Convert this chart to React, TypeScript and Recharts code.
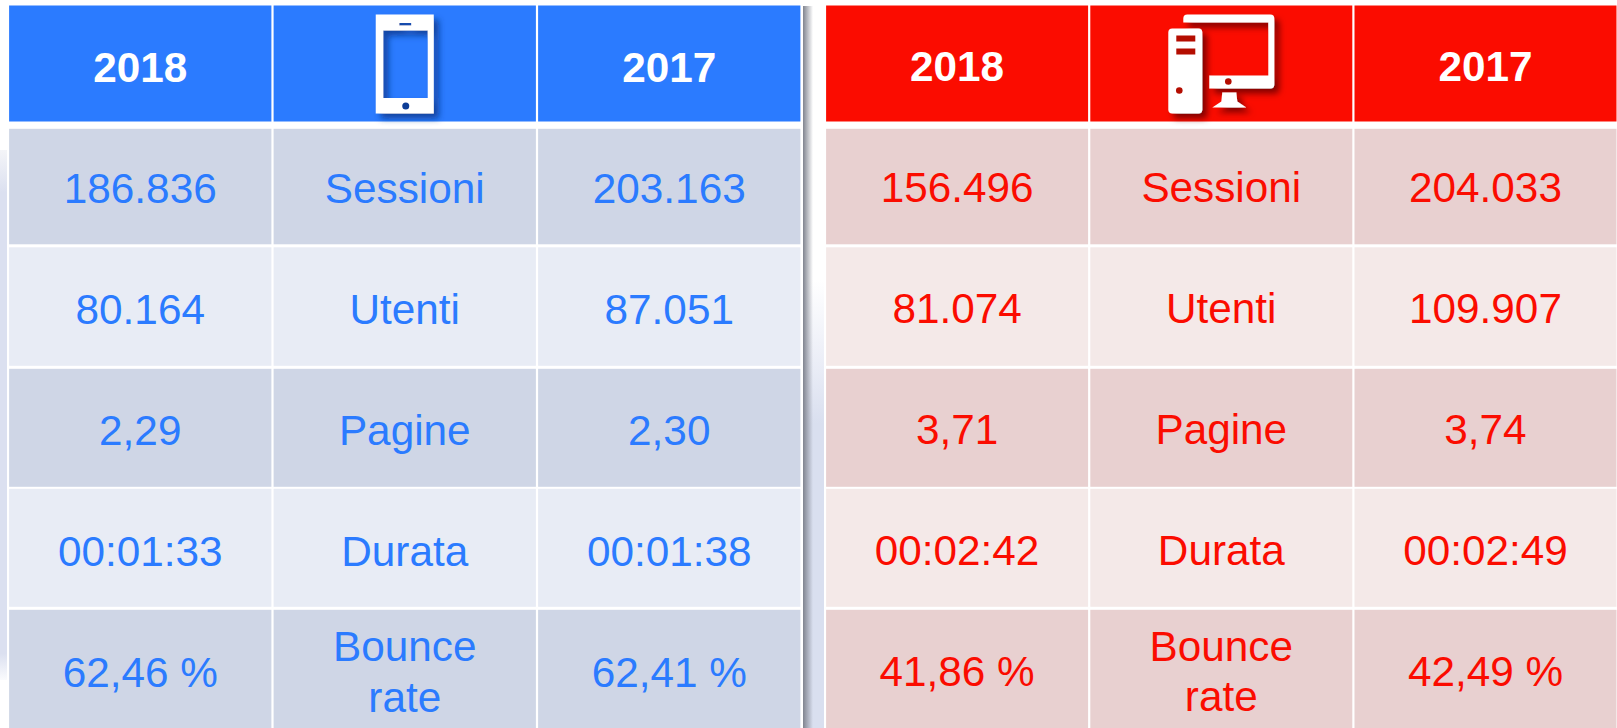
import React from 'react';
import { ScatterChart, Scatter, XAxis, YAxis } from 'recharts';

const columns = ['2018', 'device', '2017'];
const rows = ['header', 'Sessioni', 'Utenti', 'Pagine', 'Durata', 'Bounce rate'];

const mobile2018 = ['186.836', '80.164', '2,29', '00:01:33', '62,46 %'];
const mobile2017 = ['203.163', '87.051', '2,30', '00:01:38', '62,41 %'];
const desktop2018 = ['156.496', '81.074', '3,71', '00:02:42', '41,86 %'];
const desktop2017 = ['204.033', '109.907', '3,74', '00:02:49', '42,49 %'];

const buildCells = (values2018: string[], values2017: string[]) => [
  { column: '2018', row: 'header', text: '2018' },
  { column: 'device', row: 'header', text: '' },
  { column: '2017', row: 'header', text: '2017' },
  ...rows.slice(1).flatMap((row, i) => [
    { column: '2018', row, text: values2018[i] },
    { column: 'device', row, text: row },
    { column: '2017', row, text: values2017[i] },
  ]),
];

// top and bottom edge of each row, measured from the centre of its band
const rowEdges = [
  [-59, 57],
  [-56.7, 58.8],
  [-59.2, 59.3],
  [-58.7, 59.3],
  [-59.7, 58.3],
  [-59.7, 60],
];

const blue = {
  id: 'blue',
  header: '#2b7bff',
  text: '#2b7bff',
  bands: ['#cfd6e6', '#e8ecf5'],
  shadow: '#0b3c96',
};
const red = {
  id: 'red',
  header: '#fb0c00',
  text: '#fb0c00',
  bands: ['#e8d0d0', '#f4e9e8'],
  shadow: '#740000',
};

const font = '"Liberation Sans", Arial, sans-serif';

const PhoneIcon = ({ theme }: any) => (
  <g filter={`url(#shadow-${theme.id})`}>
    <path
      fillRule="evenodd"
      fill="#fff"
      d="M-29 -50 H29 V49 H-29 Z M-21.5 -34 V33.5 H23 V-34 Z M-5.5 -41.5 V-39 H6.5 V-41.5 Z"
    />
    <circle cx={1} cy={41.5} r={3.5} fill={theme.shadow} />
  </g>
);

const DesktopIcon = ({ theme }: any) => (
  <g filter={`url(#shadow-${theme.id})`}>
    <path
      fill="#fff"
      d="M-38 -46 Q-38 -50 -34 -50 H49 Q53 -50 53 -46 V20 Q53 24 49 24 H-12 V11 H47 V-42 H-38 Z"
    />
    <path fill="#fff" d="M1 28 H15 L16 37 L25 43 H-9 L0 37 Z" />
    <rect x={-53} y={-36} width={34} height={85} rx={4} fill="#fff" />
    <rect x={-45} y={-29} width={19} height={6} fill="#b40a00" />
    <rect x={-45} y={-16} width={19} height={6} fill="#b40a00" />
    <circle cx={-42} cy={26} r={3.3} fill="#b40a00" />
    <circle cx={7} cy={17} r={3.3} fill="#b40a00" />
  </g>
);

const TableCell = ({ cx, cy, payload, theme, halfWidth }: any) => {
  const rowIndex = rows.indexOf(payload.row);
  const isHeader = rowIndex === 0;
  const isIcon = isHeader && payload.column === 'device';
  const [top, bottom] = rowEdges[rowIndex];
  const fill = isHeader ? theme.header : theme.bands[(rowIndex + 1) % 2];
  const lines = payload.column === 'device' ? payload.text.split(' ') : [payload.text];
  const baseline = lines.length > 1 ? [-8.7, 42] : [17];
  return (
    <g>
      <rect x={cx - halfWidth} y={cy + top} width={halfWidth * 2} height={bottom - top} fill={fill} />
      {lines.map((line: string, i: number) => (
        <text
          key={i}
          x={cx}
          y={cy + baseline[i]}
          textAnchor="middle"
          fontFamily={font}
          fontSize={42.3}
          fontWeight={isHeader ? 700 : 400}
          fill={isHeader ? '#fff' : theme.text}
        >
          {line}
        </text>
      ))}
      {isIcon && (
        <g transform={`translate(${cx},${cy})`}>
          {theme.id === 'blue' ? <PhoneIcon theme={theme} /> : <DesktopIcon theme={theme} />}
        </g>
      )}
    </g>
  );
};

const DeviceTable = ({ cells, theme, left, width }: any) => (
  <div style={{ position: 'absolute', left, top: 4.2 }}>
    <ScatterChart width={width} height={726} margin={{ top: 0, right: 0, bottom: 0, left: 0 }}>
      <defs>
        <filter id={`shadow-${theme.id}`} x="-30%" y="-30%" width="160%" height="160%">
          <feDropShadow dx={5} dy={5} stdDeviation={3} floodColor={theme.shadow} floodOpacity={0.9} />
        </filter>
      </defs>
      <XAxis dataKey="column" type="category" scale="band" domain={columns} allowDuplicatedCategory={false} hide />
      <YAxis dataKey="row" type="category" scale="band" domain={rows} allowDuplicatedCategory={false} reversed hide />
      <Scatter
        data={cells}
        isAnimationActive={false}
        shape={(p: any) => <TableCell {...p} theme={theme} halfWidth={width / 6 - 1.1} />}
      />
    </ScatterChart>
  </div>
);

export default function App() {
  return (
    <div style={{ position: 'fixed', left: 0, top: 0, width: 1617, height: 728, overflow: 'hidden', background: '#fff' }}>
      {/* slide background showing round the two tables */}
      <div
        style={{
          position: 'absolute', left: 0, top: 150, width: 7, height: 530,
          background: 'linear-gradient(#f4f5f8, #dbe0f0 8%, #dbe0f0 95%, #fafbfd)',
        }}
      />
      <div
        style={{
          position: 'absolute', left: 803, top: 280, width: 21, height: 448,
          background: 'linear-gradient(#fff, #e9ecf6 20%, #d9dfef 32%, #d9dfef)',
        }}
      />
      <div
        style={{
          position: 'absolute', left: 803, top: 6, width: 10, height: 722,
          background: 'linear-gradient(90deg, #80848f, rgba(128,132,143,0))',
        }}
      />
      <DeviceTable cells={buildCells(mobile2018, mobile2017)} theme={blue} left={8.35} width={793.5} />
      <DeviceTable cells={buildCells(desktop2018, desktop2017)} theme={red} left={825.4} width={792.6} />
    </div>
  );
}
